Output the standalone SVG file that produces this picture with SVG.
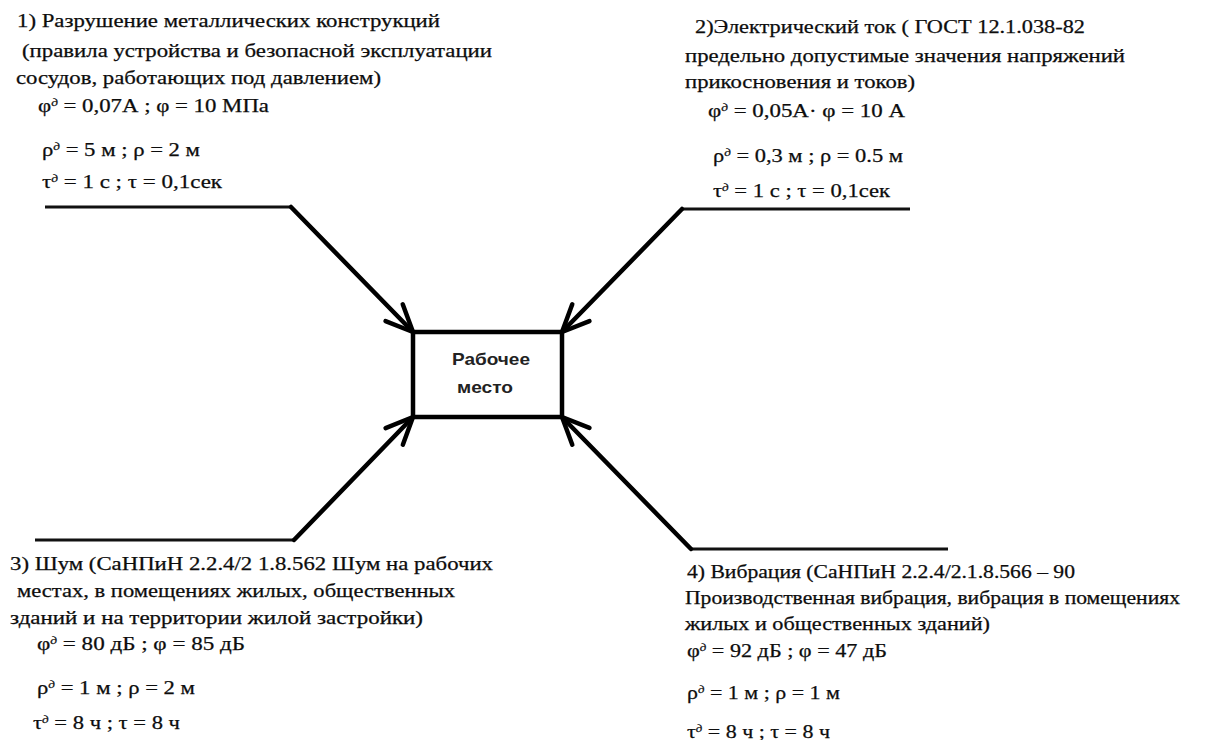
<svg xmlns="http://www.w3.org/2000/svg" width="1206" height="740" viewBox="0 0 1206 740">
<style>
.t{font-family:"Liberation Serif","DejaVu Serif","Times New Roman",serif;font-size:19px;fill:#0d0d0d;stroke:#0d0d0d;stroke-width:0.25;}
.s{font-size:11px;font-style:italic;}
.h{stroke:#111;stroke-width:3;fill:none;}
.d{stroke:#000;stroke-width:4.5;fill:none;stroke-linecap:round;}
.lbl{font-family:"Liberation Sans",Arial,sans-serif;font-weight:bold;font-size:17px;fill:#222;}
</style>
<defs>
<marker id="ah" markerUnits="userSpaceOnUse" orient="auto" refX="0" refY="0" markerWidth="40" markerHeight="40" viewBox="-34 -20 40 40" overflow="visible">
<path d="M-27,-12 L0,0 L-27,12" fill="none" stroke="#000" stroke-width="4.5" stroke-linecap="round" stroke-linejoin="round"/>
</marker>
</defs>
<rect width="1206" height="740" fill="#fff"/>
<g id="connectors">
<line class="h" x1="45" y1="207" x2="291" y2="207"/>
<line class="d" x1="291" y1="207" x2="413" y2="332" marker-end="url(#ah)"/>
<line class="h" x1="910" y1="209" x2="682" y2="209"/>
<line class="d" x1="682" y1="209" x2="562" y2="332" marker-end="url(#ah)"/>
<line class="h" x1="35" y1="540" x2="294" y2="540"/>
<line class="d" x1="294" y1="540" x2="413" y2="417" marker-end="url(#ah)"/>
<line class="h" x1="948" y1="549" x2="691" y2="549"/>
<line class="d" x1="691" y1="549" x2="562" y2="417" marker-end="url(#ah)"/>
</g>
<g id="workplace">
<rect x="413" y="332" width="149" height="85" fill="#fff" stroke="#000" stroke-width="4.5"/>
<text class="lbl" x="491" y="365" text-anchor="middle" textLength="78" lengthAdjust="spacingAndGlyphs">Рабочее</text>
<text class="lbl" x="485" y="393" text-anchor="middle" textLength="56" lengthAdjust="spacingAndGlyphs">место</text>
</g>
<g id="factor1">
<text class="t" x="17" y="27" textLength="423" lengthAdjust="spacingAndGlyphs">1) Разрушение металлических конструкций</text>
<text class="t" x="22" y="57" textLength="470" lengthAdjust="spacingAndGlyphs">(правила устройства и безопасной эксплуатации</text>
<text class="t" x="16" y="84" textLength="365" lengthAdjust="spacingAndGlyphs">сосудов, работающих под давлением)</text>
<text class="t" x="38" y="112" textLength="231" lengthAdjust="spacingAndGlyphs">φ<tspan class="s" baseline-shift="super">д</tspan> = 0,07А ; φ = 10 МПа</text>
<text class="t" x="42" y="156" textLength="158" lengthAdjust="spacingAndGlyphs">ρ<tspan class="s" baseline-shift="super">д</tspan> = 5 м ; ρ = 2 м</text>
<text class="t" x="42" y="188" textLength="180" lengthAdjust="spacingAndGlyphs">τ<tspan class="s" baseline-shift="super">д</tspan> = 1 с ; τ = 0,1сек</text>
</g>
<g id="factor2">
<text class="t" x="695" y="33" textLength="390" lengthAdjust="spacingAndGlyphs">2)Электрический ток ( ГОСТ 12.1.038-82</text>
<text class="t" x="685" y="62" textLength="440" lengthAdjust="spacingAndGlyphs">предельно допустимые значения напряжений</text>
<text class="t" x="685" y="88" textLength="230" lengthAdjust="spacingAndGlyphs">прикосновения и токов)</text>
<text class="t" x="708" y="117" textLength="197" lengthAdjust="spacingAndGlyphs">φ<tspan class="s" baseline-shift="super">д</tspan> = 0,05А· φ = 10 А</text>
<text class="t" x="713" y="162" textLength="190" lengthAdjust="spacingAndGlyphs">ρ<tspan class="s" baseline-shift="super">д</tspan> = 0,3 м ; ρ = 0.5 м</text>
<text class="t" x="713" y="197" textLength="177" lengthAdjust="spacingAndGlyphs">τ<tspan class="s" baseline-shift="super">д</tspan> = 1 с ; τ = 0,1сек</text>
</g>
<g id="factor3">
<text class="t" x="10" y="570" textLength="483" lengthAdjust="spacingAndGlyphs">3) Шум (СаНПиН 2.2.4/2 1.8.562 Шум на рабочих</text>
<text class="t" x="17" y="597" textLength="438" lengthAdjust="spacingAndGlyphs">местах, в помещениях жилых, общественных</text>
<text class="t" x="10" y="624" textLength="413" lengthAdjust="spacingAndGlyphs">зданий и на территории жилой застройки)</text>
<text class="t" x="37" y="650" textLength="208" lengthAdjust="spacingAndGlyphs">φ<tspan class="s" baseline-shift="super">д</tspan> = 80 дБ ; φ = 85 дБ</text>
<text class="t" x="37" y="694" textLength="158" lengthAdjust="spacingAndGlyphs">ρ<tspan class="s" baseline-shift="super">д</tspan> = 1 м ; ρ = 2 м</text>
<text class="t" x="33" y="729" textLength="147" lengthAdjust="spacingAndGlyphs">τ<tspan class="s" baseline-shift="super">д</tspan> = 8 ч ; τ = 8 ч</text>
</g>
<g id="factor4">
<text class="t" x="687" y="578" textLength="388" lengthAdjust="spacingAndGlyphs">4) Вибрация (СаНПиН 2.2.4/2.1.8.566 – 90</text>
<text class="t" x="685" y="604" textLength="495" lengthAdjust="spacingAndGlyphs">Производственная вибрация, вибрация в помещениях</text>
<text class="t" x="685" y="630" textLength="305" lengthAdjust="spacingAndGlyphs">жилых и общественных зданий)</text>
<text class="t" x="687" y="657" textLength="200" lengthAdjust="spacingAndGlyphs">φ<tspan class="s" baseline-shift="super">д</tspan> = 92 дБ ; φ = 47 дБ</text>
<text class="t" x="687" y="699" textLength="153" lengthAdjust="spacingAndGlyphs">ρ<tspan class="s" baseline-shift="super">д</tspan> = 1 м ; ρ = 1 м</text>
<text class="t" x="687" y="738" textLength="143" lengthAdjust="spacingAndGlyphs">τ<tspan class="s" baseline-shift="super">д</tspan> = 8 ч ; τ = 8 ч</text>
</g>
</svg>
